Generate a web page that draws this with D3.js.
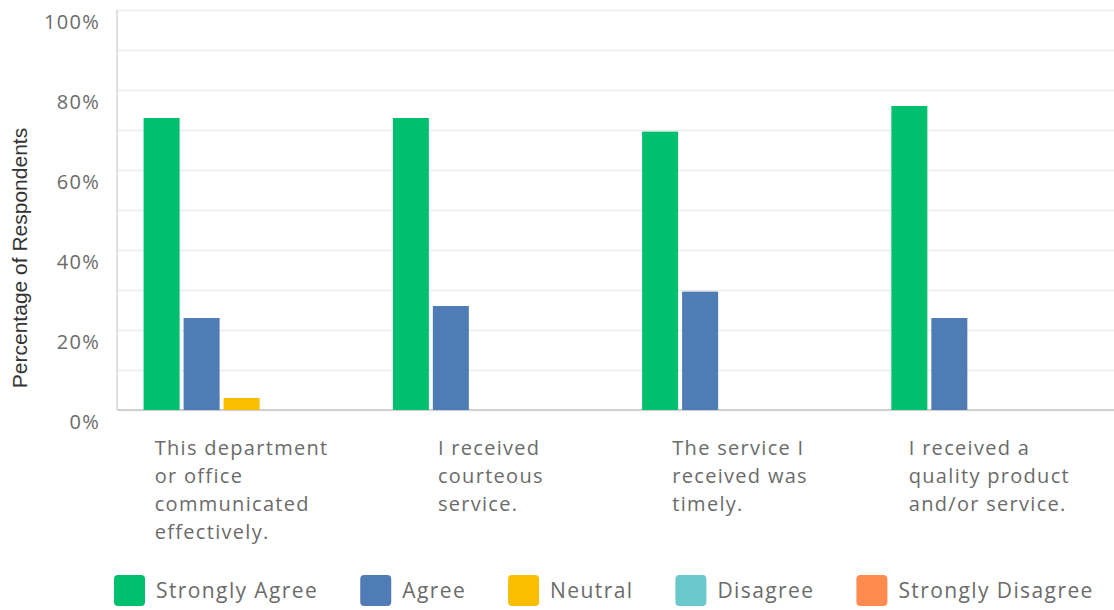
<!DOCTYPE html>
<html>
<head>
<meta charset="utf-8">
<script src="https://cdn.jsdelivr.net/npm/d3@7"></script>
<style>
  body { margin: 0; background: #fff; }
  text { font-family: "Open Sans", sans-serif; }
</style>
</head>
<body>
<svg id="chart"></svg>
<script>
var categoryLines = [
  ["This department", "or office", "communicated", "effectively."],
  ["I received", "courteous", "service."],
  ["The service I", "received was", "timely."],
  ["I received a", "quality product", "and/or service."]
];
var seriesNames = ["Strongly Agree", "Agree", "Neutral", "Disagree", "Strongly Disagree"];
var seriesColors = ["#00bf6f", "#507cb6", "#f9be00", "#6bc8cd", "#ff8b4f"];

var stronglyAgree = [73, 73, 69.6, 76];
var agree = [23, 26, 29.6, 23];
var neutral = [3, 0, 0, 0];
var disagree = [0, 0, 0, 0];
var stronglyDisagree = [0, 0, 0, 0];

var yTicks = [0, 20, 40, 60, 80, 100];

var allSeries = [stronglyAgree, agree, neutral, disagree, stronglyDisagree];

var width = 1114;
var height = 610;
var plotLeft = 117, plotRight = 1114, plotTop = 10, plotBottom = 410;

var svg = d3.select("#chart")
            .attr("width", width)
            .attr("height", height);

var y = d3.scaleLinear().domain([0, 100]).range([plotBottom, plotTop]);

var x0 = d3.scaleBand()
           .domain(d3.range(categoryLines.length))
           .range([plotLeft, plotRight]);

var x1 = d3.scaleBand()
           .domain(seriesNames)
           .range([24.6, 224.6])
           .paddingInner(0.1)
           .paddingOuter(0.05);

var color = d3.scaleOrdinal().domain(seriesNames).range(seriesColors);

// gridlines
var grid = svg.append("g")
   .attr("transform", "translate(" + plotLeft + ",0)")
   .call(d3.axisLeft(y).ticks(10).tickSize(-(plotRight - plotLeft)).tickFormat(""));
grid.select(".domain").remove();
grid.selectAll("line").attr("stroke", "#ececec").attr("stroke-width", 1.5);

// y axis labels
var yAxis = svg.append("g")
   .attr("transform", "translate(" + plotLeft + ",0)")
   .call(d3.axisLeft(y).tickValues(yTicks).tickSize(0).tickPadding(17)
           .tickFormat(function(d) { return d + "%"; }));
yAxis.select(".domain").remove();
yAxis.selectAll("text")
     .attr("dy", 18)
     .attr("fill", "#6b6b6b")
     .style("font-family", "'Open Sans', sans-serif")
     .style("letter-spacing", "1.3px")
     .style("font-size", "20px");

// axis lines
svg.append("line")
   .attr("x1", plotLeft).attr("x2", plotLeft)
   .attr("y1", y(100)).attr("y2", y(0))
   .attr("stroke", "#d6d6d6").attr("stroke-width", 1.5);
svg.append("line")
   .attr("x1", plotLeft).attr("x2", plotRight)
   .attr("y1", y(0)).attr("y2", y(0))
   .attr("stroke", "#d0d0d0").attr("stroke-width", 2);

// bars
var groups = svg.selectAll("g.group")
   .data(categoryLines)
   .enter()
   .append("g")
   .attr("class", "group")
   .attr("transform", function(d, i) { return "translate(" + x0(i) + ",0)"; });

groups.selectAll("rect")
   .data(function(d, i) {
     return seriesNames.map(function(s, j) { return { name: s, value: allSeries[j][i] }; });
   })
   .enter()
   .filter(function(d) { return d.value > 0; })
   .append("rect")
   .attr("x", function(d) { return x1(d.name); })
   .attr("y", function(d) { return y(d.value); })
   .attr("width", x1.bandwidth())
   .attr("height", function(d) { return y(0) - y(d.value); })
   .attr("fill", function(d) { return color(d.name); });

// category labels, left aligned block centered on band
groups.each(function(lines, i) {
  var g = d3.select(this);
  var t = g.append("text")
           .attr("fill", "#6b6b6b")
           .style("font-size", "20px")
           .style("letter-spacing", "1.3px");
  t.selectAll("tspan")
   .data(lines)
   .enter()
   .append("tspan")
   .attr("x", 0)
   .attr("y", function(d, k) { return 455 + k * 28; })
   .text(function(d) { return d; });
  var w = t.node().getBBox().width;
  t.attr("transform", "translate(" + (x0.bandwidth() / 2 - w / 2) + ",0)");
});

// y title
svg.append("text")
   .attr("transform", "translate(27,258) rotate(-90)")
   .attr("text-anchor", "middle")
   .attr("fill", "#333")
   .style("font-family", "'Liberation Sans', Arial, sans-serif")
   .style("font-size", "21px")
   .text("Percentage of Respondents");

// legend
var lx = 114;
seriesNames.forEach(function(name) {
  var item = svg.append("g").attr("transform", "translate(" + lx + ",575)");
  item.append("rect")
      .attr("width", 31).attr("height", 31)
      .attr("rx", 4)
      .attr("fill", color(name));
  var t = item.append("text")
      .attr("x", 42).attr("y", 23)
      .attr("fill", "#6b6b6b")
      .style("font-size", "21px")
      .style("letter-spacing", "1.4px")
      .text(name);
  lx += 42 + t.node().getComputedTextLength() + 42;
});
</script>
</body>
</html>
